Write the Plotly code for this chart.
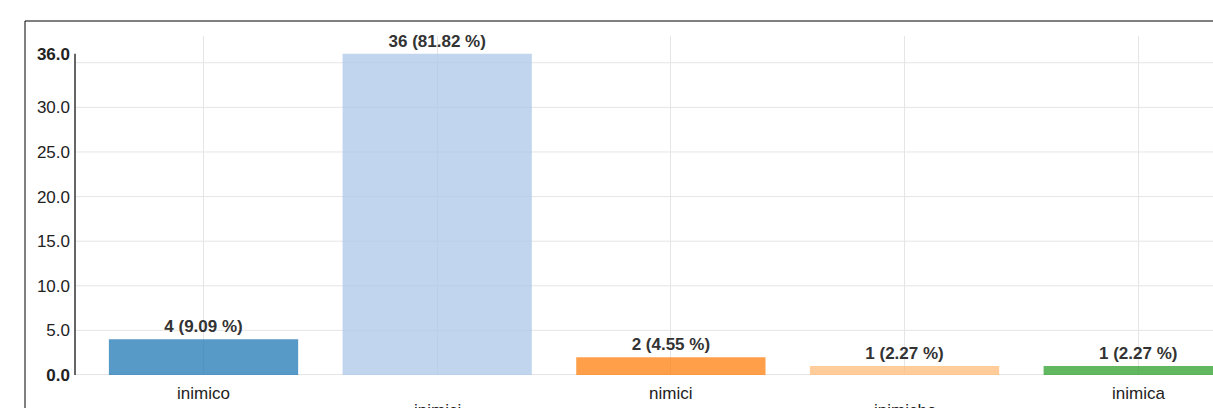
import plotly.graph_objects as go

categories = ["inimico", "inimici", "nimici", "inimiche", "inimica"]
values = [4, 36, 2, 1, 1]
colors = ["#1f77b4", "#aec7e8", "#ff7f0e", "#ffbb78", "#2ca02c"]
ytick_vals = [0, 5, 10, 15, 20, 25, 30, 36]
grid_vals = [0, 5, 10, 15, 20, 25, 30, 35]

total = sum(values)
labels = [f"{v} ({v / total * 100:.2f} %)" for v in values]
ticktext_y = [f"<b>{v:.1f}</b>" if v in (0, max(values)) else f"{v:.1f}" for v in ytick_vals]

FONT = "Liberation Sans, Arial, sans-serif"
FS = 17
W, H = 1213, 408
L, T, B = 75, 36, 33
PW, PH = W - L, H - T - B

fig = go.Figure()
fig.add_trace(go.Bar(
    x=categories, y=values,
    marker=dict(color=colors, opacity=0.75, line=dict(width=0)),
    text=labels, textposition="outside",
    textfont=dict(family=FONT, size=FS, color="#333"),
    texttemplate="<b>%{text}</b>",
    cliponaxis=False,
    hoverinfo="skip",
))

shapes = []
for g in grid_vals:
    shapes.append(dict(type="line", xref="x domain", yref="y", x0=0, x1=1, y0=g, y1=g,
                       line=dict(color="#e5e5e5", width=1 if g else 2), layer="below"))
# y axis line
shapes.append(dict(type="line", xref="x domain", yref="y", x0=0, x1=0, y0=0, y1=max(values),
                   line=dict(color="#333", width=1.5), layer="above"))
# outer border
shapes.append(dict(type="rect", xref="paper", yref="paper",
                   x0=(25 - L) / PW, x1=1.2, y0=-0.5, y1=1 + (T - 21) / PH,
                   line=dict(color="#000", width=1), fillcolor="rgba(0,0,0,0)"))

annotations = []
for i, c in enumerate(categories):
    annotations.append(dict(
        x=c, xref="x", y=0, yref="paper", yanchor="top", xanchor="center",
        yshift=-7 if i % 2 == 0 else -24,
        text=c, showarrow=False,
        font=dict(family=FONT, size=FS, color="#222"),
    ))

fig.update_layout(
    width=W, height=H,
    margin=dict(l=L, r=0, t=T, b=B, autoexpand=False),
    paper_bgcolor="white", plot_bgcolor="white",
    bargap=0.19,
    showlegend=False,
    font=dict(family=FONT, size=FS, color="#222"),
    shapes=shapes,
    annotations=annotations,
    xaxis=dict(
        type="category", range=[-0.55, 4.32],
        showticklabels=False,
        showgrid=True, gridcolor="#e5e5e5", gridwidth=1,
        showline=False, zeroline=False, ticks="",
        automargin=False,
    ),
    yaxis=dict(
        range=[0, 38],
        tickvals=ytick_vals, ticktext=ticktext_y,
        showgrid=False, zeroline=False, showline=False, ticks="",
        ticklabelstandoff=4,
        tickfont=dict(family=FONT, size=FS, color="#222"),
        automargin=False,
    ),
)

fig.write_html(
    "out.html",
    config={"displayModeBar": False},
    post_script="document.body.style.margin='0';document.body.style.overflow='hidden';",
)
